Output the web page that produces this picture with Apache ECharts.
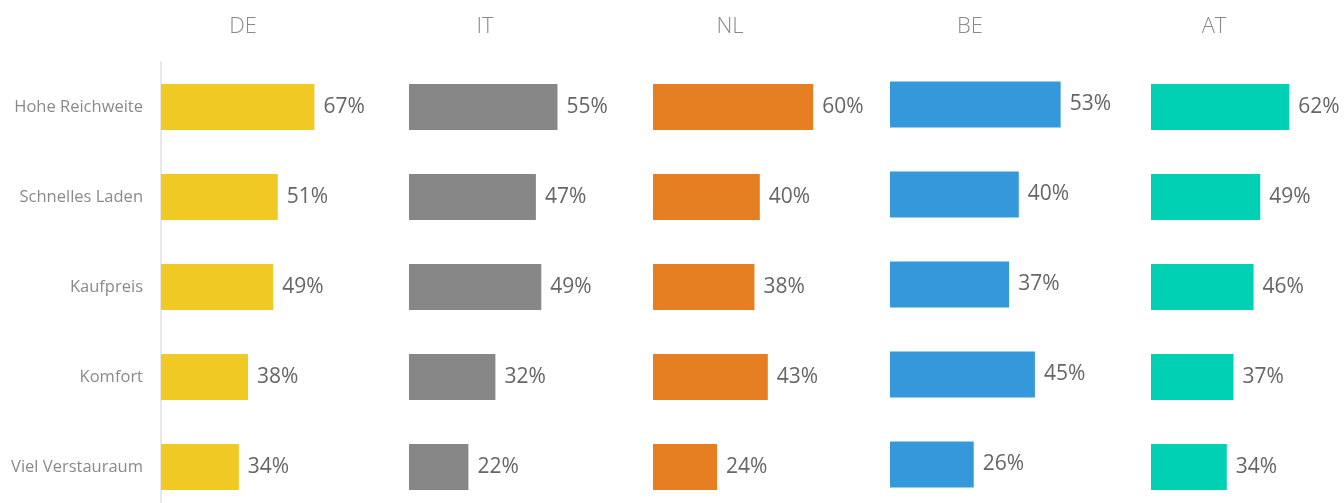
<!DOCTYPE html>
<html>
<head>
<meta charset="utf-8">
<script src="https://cdn.jsdelivr.net/npm/echarts@6/dist/echarts.min.js"></script>
<style>
  html, body { margin: 0; padding: 0; background: #fff; }
  #chart { width: 1344px; height: 503px; }
</style>
</head>
<body>
<div id="chart"></div>
<script>
  // Daten
  var categories = ['Hohe Reichweite', 'Schnelles Laden', 'Kaufpreis', 'Komfort', 'Viel Verstauraum']
  var countries = ['DE', 'IT', 'NL', 'BE', 'AT']
  var deValues = [67, 51, 49, 38, 34]
  var itValues = [55, 47, 49, 32, 22]
  var nlValues = [60, 40, 38, 43, 24]
  var beValues = [53, 40, 37, 45, 26]
  var atValues = [62, 49, 46, 37, 34]

  // Layout pro Panel (Balkenstart, Titelmitte, px pro %)
  var panels = [
    { values: deValues, color: '#F0C924', left: 161, center: 243, scale: 2.29, top: 62 },
    { values: itValues, color: '#878787', left: 409, center: 485, scale: 2.70, top: 62 },
    { values: nlValues, color: '#E67E22', left: 653, center: 730, scale: 2.67, top: 62 },
    { values: beValues, color: '#3598DB', left: 890, center: 970, scale: 3.22, top: 59.5 },
    { values: atValues, color: '#00D0B4', left: 1151, center: 1214, scale: 2.23, top: 62 }
  ]

  var font = 'Open Sans'
  var grid = [], xAxis = [], yAxis = [], series = []

  panels.forEach(function (p, i) {
    var w = 2 * (p.center - p.left)
    grid.push({
      left: p.left, top: p.top, width: w, height: 450,
      containLabel: false, outerBoundsMode: 'none'
    })
    xAxis.push({
      gridIndex: i,
      type: 'value',
      position: 'top',
      min: 0,
      max: w / p.scale,
      name: countries[i],
      nameLocation: 'middle',
      nameGap: 24 - (62 - p.top),
      nameTextStyle: { color: '#8a8a8a', fontSize: 22, fontFamily: font, fontWeight: 300 },
      axisLine: { show: false },
      axisTick: { show: false },
      axisLabel: { show: false },
      splitLine: { show: false }
    })
    yAxis.push({
      gridIndex: i,
      type: 'category',
      inverse: true,
      data: categories,
      axisLine: { show: i === 0, lineStyle: { color: '#e8e8e8', width: 2 } },
      axisTick: { show: false },
      axisLabel: {
        show: i === 0,
        margin: 18,
        color: '#8a8a8a',
        fontSize: 16.5,
        fontFamily: font
      },
      splitLine: { show: false }
    })
    series.push({
      type: 'bar',
      xAxisIndex: i,
      yAxisIndex: i,
      barWidth: 46,
      clip: false,
      data: p.values,
      itemStyle: { color: p.color },
      label: {
        show: true,
        position: 'right',
        distance: 9,
        formatter: '{c}%',
        color: '#666',
        fontSize: 21,
        fontFamily: font
      },
      animation: false
    })
  })

  var chart = echarts.init(document.getElementById('chart'))
  chart.setOption({
    animation: false,
    grid: grid,
    xAxis: xAxis,
    yAxis: yAxis,
    series: series
  })
</script>
</body>
</html>
